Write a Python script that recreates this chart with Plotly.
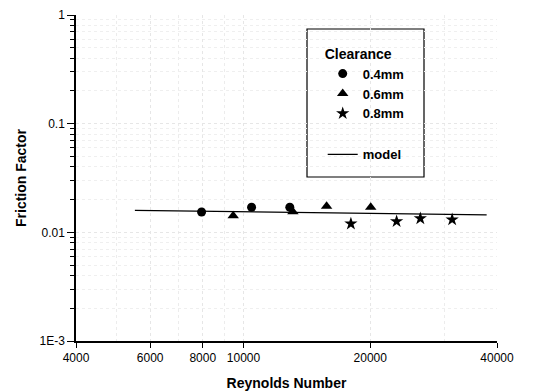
import plotly.graph_objects as go

# Data
re_04 = [7950, 10450, 12880]
f_04 = [0.0154, 0.0170, 0.0170]

re_06 = [9450, 13100, 15750, 20050]
f_06 = [0.0142, 0.0155, 0.0174, 0.0170]

re_08 = [17990, 23100, 26300, 31300]
f_08 = [0.0120, 0.0126, 0.0134, 0.0131]

re_model = [5520, 10000, 20000, 37800]
f_model = [0.0159, 0.0155, 0.0150, 0.0145]

x_ticks = [4000, 6000, 8000, 10000, 20000, 40000]
x_ticktext = ["4000", "6000", "8000", "10000", "20000", "40000"]
y_ticks = [0.001, 0.01, 0.1, 1]
y_ticktext = ["1E-3", "0.01", "0.1", "1"]

y_minor = [m * 10 ** e for e in (-3, -2, -1) for m in range(2, 10)]
x_minor = [5000, 7000, 9000, 30000]

FONT = "Liberation Sans, Arial, sans-serif"

fig = go.Figure()
fig.add_trace(go.Scatter(x=re_04, y=f_04, mode="markers", name="0.4mm",
                         legendgroup="a",
                         marker=dict(symbol="circle", size=9, color="black")))
fig.add_trace(go.Scatter(x=re_06, y=f_06, mode="markers", name="0.6mm",
                         legendgroup="a",
                         marker=dict(symbol="triangle-up", size=10, color="black")))
fig.add_trace(go.Scatter(x=re_08, y=f_08, mode="markers", name="0.8mm",
                         legendgroup="a",
                         marker=dict(symbol="star", size=10, color="black")))
fig.add_trace(go.Scatter(x=re_model, y=f_model, mode="lines", name="model",
                         legendgroup="b",
                         line=dict(color="black", width=1.3)))

fig.update_layout(
    width=539, height=392,
    margin=dict(l=76, r=42, t=15, b=51, autoexpand=False),
    paper_bgcolor="white", plot_bgcolor="white",
    font=dict(family=FONT, color="black", size=12),
    legend=dict(
        title=dict(text="Clearance", font=dict(size=14, family=FONT, weight="bold")),
        x=0.586, y=0.922, xanchor="left", yanchor="top",
        borderwidth=0, bgcolor="rgba(0,0,0,0)",
        font=dict(size=13, family=FONT, weight="bold"),
        tracegroupgap=21,
    ),
    shapes=[dict(type="rect", xref="paper", yref="paper",
                 x0=0.5487, x1=0.8266, y0=0.503, y1=0.957,
                 line=dict(color="black", width=1.2), fillcolor="white",
                 layer="between")],
)

fig.update_xaxes(
    type="log", range=[3.60206, 4.60206],
    tickvals=x_ticks, ticktext=x_ticktext,
    ticks="outside", ticklen=5, tickcolor="black",
    showline=True, linecolor="black", linewidth=1.5,
    showgrid=True, gridcolor="#e6e6e6", griddash="dot", gridwidth=1,
    minor=dict(tickvals=x_minor, showgrid=True, gridcolor="#ececec", griddash="dot"),
    tickfont=dict(size=12, family=FONT),
    title=dict(text="Reynolds Number", font=dict(size=14, family=FONT, weight="bold"),
               standoff=14),
    zeroline=False, automargin=False,
)
fig.update_yaxes(
    type="log", range=[-3, 0],
    tickvals=y_ticks, ticktext=y_ticktext,
    ticks="outside", ticklen=7, tickcolor="black",
    showline=True, linecolor="black", linewidth=1.5,
    showgrid=True, gridcolor="#e6e6e6", griddash="dot", gridwidth=1,
    minor=dict(tickvals=y_minor, ticks="outside", ticklen=4, tickcolor="black",
               showgrid=True, gridcolor="#efefef", griddash="dot"),
    tickfont=dict(size=12, family=FONT),
    title=dict(text="Friction Factor", font=dict(size=14, family=FONT, weight="bold"),
               standoff=10),
    zeroline=False, automargin=False,
)

fig.write_html("out.html")
